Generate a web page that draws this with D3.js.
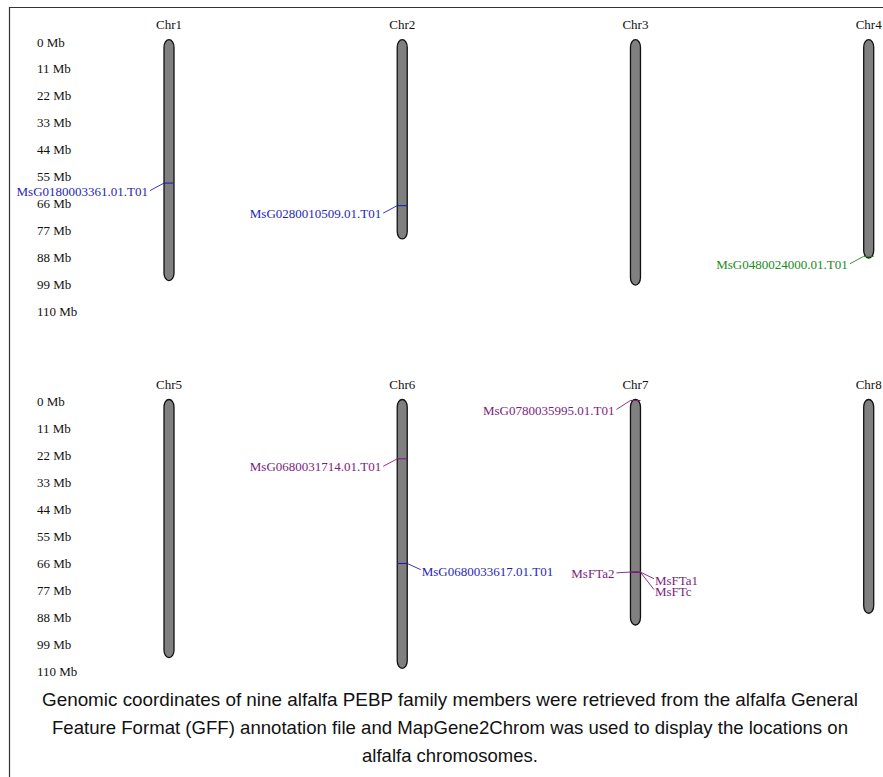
<!DOCTYPE html>
<html>
<head>
<meta charset="utf-8">
<script src="https://cdn.jsdelivr.net/npm/d3@7"></script>
<style>
  html, body { margin: 0; padding: 0; background: #fff; }
  svg { display: block; }
</style>
</head>
<body>
<svg id="map" width="883" height="777"></svg>
<script>
// Chromosomes and their lengths (Mb)
const chromosomes = ["Chr1", "Chr2", "Chr3", "Chr4", "Chr5", "Chr6", "Chr7", "Chr8"];
const chromLengthMb = [98.3, 81.3, 100.1, 89.1, 105.3, 109.7, 92.0, 87.2];

// Ruler tick values (Mb)
const tickValuesMb = [0, 11, 22, 33, 44, 55, 66, 77, 88, 99, 110];

// PEBP family members: name, chromosome, position (Mb), subfamily
const geneNames = [
  "MsG0180003361.01.T01", "MsG0280010509.01.T01", "MsG0480024000.01.T01",
  "MsG0680031714.01.T01", "MsG0680033617.01.T01", "MsG0780035995.01.T01",
  "MsFTa2", "MsFTa1", "MsFTc"
];
const geneChrom = ["Chr1", "Chr2", "Chr4", "Chr6", "Chr6", "Chr7", "Chr7", "Chr7", "Chr7"];
const genePosMb = [58.5, 67.7, 88.4, 24.2, 66.9, 0.4, 70.4, 70.45, 70.5];
const geneSubfamily = ["TFL1-like", "TFL1-like", "MFT-like", "FT-like", "TFL1-like",
                       "FT-like", "FT-like", "FT-like", "FT-like"];

// Caption lines
const captionLines = [
  "Genomic coordinates of nine alfalfa PEBP family members were retrieved from the alfalfa General",
  "Feature Format (GFF) annotation file and MapGene2Chrom was used to display the locations on",
  "alfalfa chromosomes."
];

const svg = d3.select("#map");
const serif = "'Liberation Serif', 'Times New Roman', serif";

// frame lines
svg.append("line").attr("x1", 9).attr("x2", 883).attr("y1", 7.5).attr("y2", 7.5)
  .attr("stroke", "#333").attr("stroke-width", 1.2);
svg.append("line").attr("x1", 9.5).attr("x2", 9.5).attr("y1", 7).attr("y2", 777)
  .attr("stroke", "#333").attr("stroke-width", 1.2);

const colour = d3.scaleOrdinal()
  .domain(["TFL1-like", "FT-like", "MFT-like"])
  .range(["#1f1fb8", "#7b1d7b", "#208a20"]);

const perRow = 4;
const rowTop = [39.7, 399.5];
const pxPerMb = 2.451;
const x = d3.scaleLinear().domain([0, 3]).range([169, 868.7]);
const chromW = 10;

// label placement around each chromosome
const labelLayout = {
  "MsG0680033617.01.T01": { side: "right", dy: 7.7 },
  "MsG0780035995.01.T01": { side: "left", dy: 9.5 },
  "MsFTa2": { side: "left", dy: 1.3 },
  "MsFTa1": { side: "right", dy: 8 },
  "MsFTc": { side: "right", dy: 18.7 }
};

rowTop.forEach((top, r) => {
  const y = d3.scaleLinear().domain([0, 110]).range([top, top + 110 * pxPerMb]);
  const g = svg.append("g");

  // ruler labels
  g.selectAll("text.tick").data(tickValuesMb).join("text")
    .attr("class", "tick")
    .attr("x", 37).attr("y", d => y(d) + 6.8)
    .attr("font-family", serif).attr("font-size", 13).attr("fill", "#111")
    .text(d => d + " Mb");

  const rowChroms = chromosomes.slice(r * perRow, r * perRow + perRow);
  rowChroms.forEach((name, i) => {
    const cx = x(i);
    const len = chromLengthMb[chromosomes.indexOf(name)];
    g.append("text")
      .attr("x", cx).attr("y", top - 10.5)
      .attr("text-anchor", "middle")
      .attr("font-family", serif).attr("font-size", 13).attr("fill", "#111")
      .text(name);
    g.append("rect")
      .attr("x", cx - chromW / 2).attr("y", y(0))
      .attr("width", chromW).attr("height", y(len) - y(0))
      .attr("rx", 5).attr("ry", 7.5)
      .attr("fill", "#808080").attr("stroke", "#111").attr("stroke-width", 1.3);

    geneNames.forEach((gene, k) => {
      if (geneChrom[k] !== name) return;
      const gy = y(genePosMb[k]);
      const c = colour(geneSubfamily[k]);
      const lay = labelLayout[gene] || { side: "left", dy: 8 };
      const ly = gy + lay.dy;
      g.append("line")
        .attr("x1", cx - chromW / 2).attr("x2", cx + chromW / 2)
        .attr("y1", gy).attr("y2", gy)
        .attr("stroke", c).attr("stroke-width", 1.1);
      if (lay.side === "left") {
        const tx = cx - chromW / 2 - 16;
        g.append("line")
          .attr("x1", cx - chromW / 2).attr("y1", gy)
          .attr("x2", tx + 2).attr("y2", ly - 0.5)
          .attr("stroke", c).attr("stroke-width", 0.9);
        g.append("text")
          .attr("x", tx).attr("y", ly + 4.6)
          .attr("text-anchor", "end")
          .attr("font-family", serif).attr("font-size", 13).attr("fill", c)
          .text(gene);
      } else {
        const tx = cx + chromW / 2 + 14.5;
        g.append("line")
          .attr("x1", cx + chromW / 2).attr("y1", gy)
          .attr("x2", tx - 1).attr("y2", ly - 1.5)
          .attr("stroke", c).attr("stroke-width", 0.9);
        g.append("text")
          .attr("x", tx).attr("y", ly + 4.6)
          .attr("text-anchor", "start")
          .attr("font-family", serif).attr("font-size", 13).attr("fill", c)
          .text(gene);
      }
    });
  });
});

// caption: the two full lines are fitted to the caption width, the last one keeps its natural width
const capWidths = [816, 796, null];
const capBase = [706, 734, 762];
captionLines.forEach((line, i) => {
  const t = svg.append("text")
    .attr("x", 450).attr("y", capBase[i])
    .attr("text-anchor", "middle")
    .attr("font-family", "'Liberation Sans', Arial, sans-serif")
    .attr("font-size", 18.5).attr("fill", "#111")
    .text(line);
  if (capWidths[i]) {
    t.attr("textLength", capWidths[i]).attr("lengthAdjust", "spacingAndGlyphs");
  }
});
</script>
</body>
</html>
